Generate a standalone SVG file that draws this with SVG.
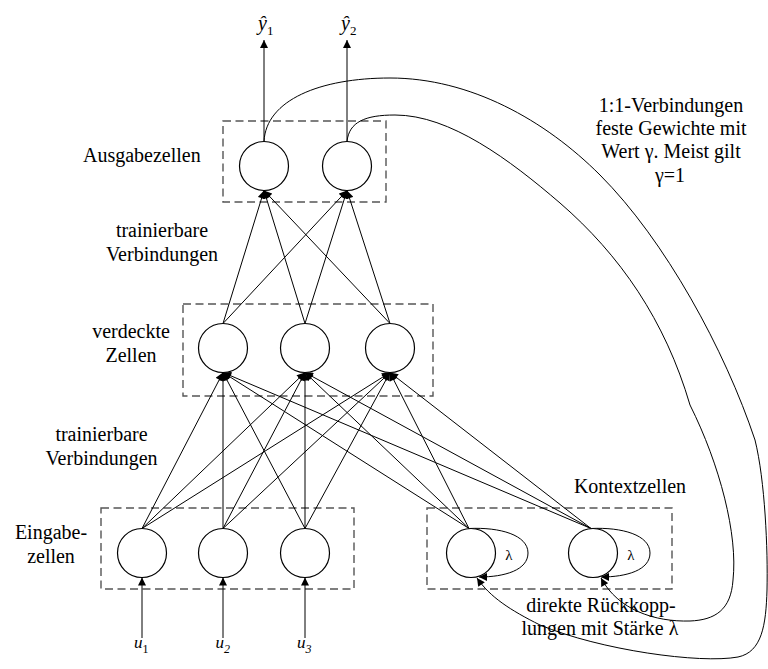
<svg xmlns="http://www.w3.org/2000/svg" width="768" height="669" viewBox="0 0 768 669">
<style>
text{font-family:"Liberation Serif","DejaVu Serif",serif;font-size:20px;fill:#000}
.m{text-anchor:middle}
.i{font-style:italic}
.box{fill:none;stroke:#555;stroke-width:1.4;stroke-dasharray:8 4.5}
.cell{fill:#fff;stroke:#000;stroke-width:1.2}
.ar{fill:none;stroke:#000;stroke-width:1;marker-end:url(#ah)}
</style>
<defs>
<marker id="ah" viewBox="0 0 10 10" refX="10" refY="5" markerWidth="9" markerHeight="8" markerUnits="userSpaceOnUse" orient="auto">
<path d="M0,0 L10,5 L0,10 z" fill="#000"/>
</marker>
</defs>
<rect width="768" height="669" fill="#fff"/>

<g id="boxes">
<rect class="box" x="223" y="121" width="163" height="81"/>
<rect class="box" x="183" y="304" width="250" height="92"/>
<rect class="box" x="101" y="508" width="253" height="81"/>
<rect class="box" x="427" y="508" width="245" height="81"/>
</g>

<g id="connectors">
<line class="ar" x1="264" y1="141.5" x2="264" y2="40"/>
<line class="ar" x1="347" y1="141.5" x2="347" y2="40"/>
<line class="ar" x1="223" y1="323.5" x2="264" y2="190.5"/>
<line class="ar" x1="305" y1="323.5" x2="264" y2="190.5"/>
<line class="ar" x1="390" y1="323.5" x2="264" y2="190.5"/>
<line class="ar" x1="223" y1="323.5" x2="347" y2="190.5"/>
<line class="ar" x1="305" y1="323.5" x2="347" y2="190.5"/>
<line class="ar" x1="390" y1="323.5" x2="347" y2="190.5"/>
<line class="ar" x1="142" y1="528.5" x2="223" y2="372.5"/>
<line class="ar" x1="142" y1="528.5" x2="305" y2="372.5"/>
<line class="ar" x1="142" y1="528.5" x2="390" y2="372.5"/>
<line class="ar" x1="223" y1="528.5" x2="223" y2="372.5"/>
<line class="ar" x1="223" y1="528.5" x2="305" y2="372.5"/>
<line class="ar" x1="223" y1="528.5" x2="390" y2="372.5"/>
<line class="ar" x1="305" y1="528.5" x2="223" y2="372.5"/>
<line class="ar" x1="305" y1="528.5" x2="305" y2="372.5"/>
<line class="ar" x1="305" y1="528.5" x2="390" y2="372.5"/>
<line class="ar" x1="469" y1="528.5" x2="223" y2="372.5"/>
<line class="ar" x1="469" y1="528.5" x2="305" y2="372.5"/>
<line class="ar" x1="469" y1="528.5" x2="390" y2="372.5"/>
<line class="ar" x1="591" y1="528.5" x2="223" y2="372.5"/>
<line class="ar" x1="591" y1="528.5" x2="305" y2="372.5"/>
<line class="ar" x1="591" y1="528.5" x2="390" y2="372.5"/>
<line class="ar" x1="142" y1="638" x2="142" y2="577.5"/>
<line class="ar" x1="223" y1="638" x2="223" y2="577.5"/>
<line class="ar" x1="305" y1="638" x2="305" y2="577.5"/>
<path class="ar" d="M469,528.5 C500,527 528,535 528,553 C528,570 505,577 479,577"/>
<path class="ar" d="M591,528.5 C622,527 650,535 650,553 C650,570 627,577 601,577"/>
<path class="ar" d="M264,141.5 C266,100 320,78 390,78 C470,78 545,120 600,175 C665,240 725,350 755,440 C765,480 768,550 767,590 C766,625 762,652 738,657 C700,664 600,650 540,625 C510,610 490,597 477,578"/>
<path class="ar" d="M347,141.5 C349,122 365,115 395,115 C450,115 510,160 560,203 C620,255 665,320 690,405 C720,465 738,535 733,580 C731,610 715,620 690,621 C655,622 618,610 601,578"/>
</g>

<g id="output1"><circle class="cell" cx="264" cy="166" r="24.5"/></g>
<g id="output2"><circle class="cell" cx="347" cy="166" r="24.5"/></g>
<g id="hidden1"><circle class="cell" cx="223" cy="348" r="24.5"/></g>
<g id="hidden2"><circle class="cell" cx="305" cy="348" r="24.5"/></g>
<g id="hidden3"><circle class="cell" cx="390" cy="348" r="24.5"/></g>
<g id="input1"><circle class="cell" cx="142" cy="553" r="24.5"/></g>
<g id="input2"><circle class="cell" cx="223" cy="553" r="24.5"/></g>
<g id="input3"><circle class="cell" cx="305" cy="553" r="24.5"/></g>
<g id="context1"><circle class="cell" cx="471" cy="553" r="24.5"/><text class="m" x="509" y="560" style="font-size:15px">λ</text></g>
<g id="context2"><circle class="cell" cx="593" cy="553" r="24.5"/><text class="m" x="631" y="560" style="font-size:15px">λ</text></g>

<g id="labels">
<text class="i" x="258" y="30">ŷ<tspan style="font-style:normal;font-size:13px" dy="5">1</tspan></text>
<text class="i" x="341" y="30">ŷ<tspan style="font-style:normal;font-size:13px" dy="5">2</tspan></text>
<text x="83" y="162">Ausgabezellen</text>
<text class="m" x="162" y="237">trainierbare</text>
<text class="m" x="162" y="261">Verbindungen</text>
<text class="m" x="131" y="338">verdeckte</text>
<text class="m" x="131" y="362">Zellen</text>
<text class="m" x="101.5" y="441">trainierbare</text>
<text class="m" x="101.5" y="465">Verbindungen</text>
<text class="m" x="51" y="539">Eingabe-</text>
<text class="m" x="51" y="563">zellen</text>
<text class="m" x="630" y="493">Kontextzellen</text>
<text class="m" x="601" y="612">direkte Rückkopp-</text>
<text class="m" x="600" y="635">lungen mit Stärke λ</text>
<text class="m" x="671" y="112">1:1-Verbindungen</text>
<text class="m" x="671" y="135">feste Gewichte mit</text>
<text class="m" x="671" y="158">Wert γ. Meist gilt</text>
<text class="m" x="670" y="182">γ=1</text>
<text class="i" x="134" y="648" style="font-size:17px">u<tspan style="font-style:normal;font-size:12px" dy="5">1</tspan></text>
<text class="i" x="215.5" y="648" style="font-size:17px">u<tspan style="font-size:12px" dy="5">2</tspan></text>
<text class="i" x="297" y="648" style="font-size:17px">u<tspan style="font-size:12px" dy="5">3</tspan></text>
</g>
</svg>
